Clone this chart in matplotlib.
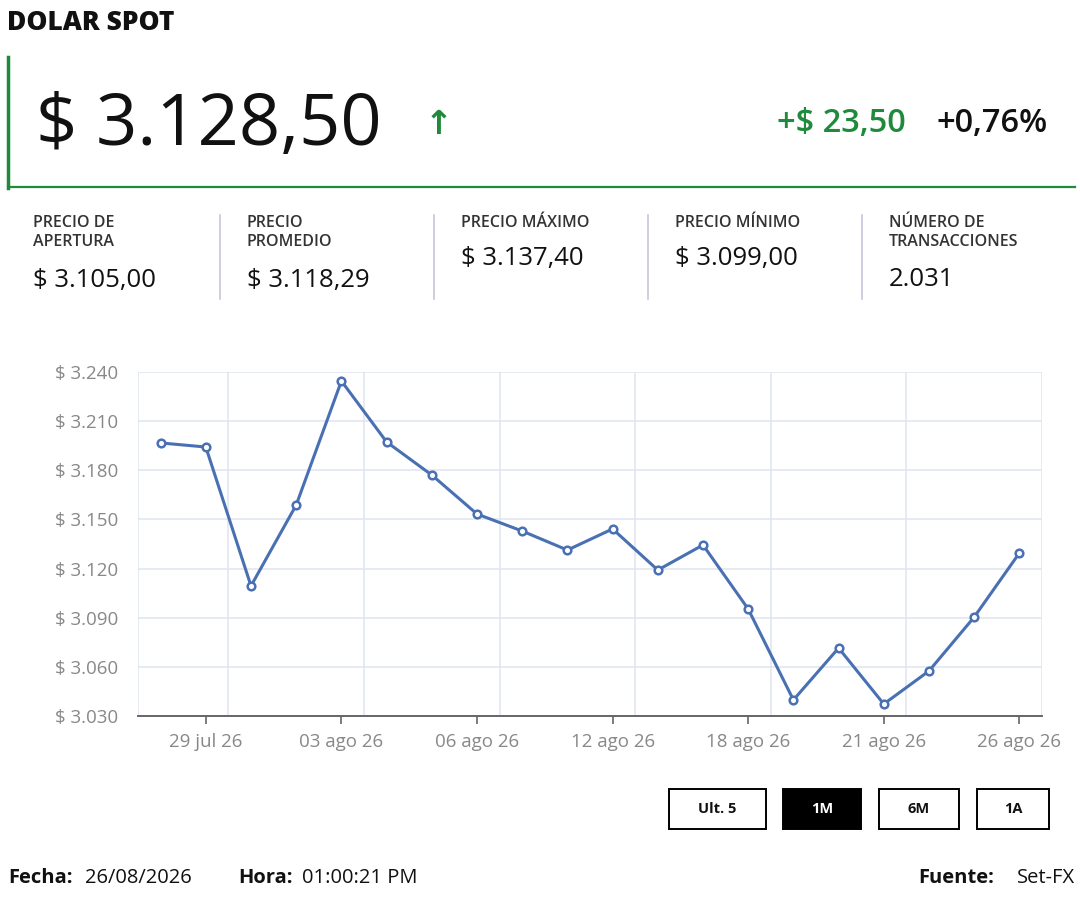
import matplotlib.pyplot as plt
from matplotlib.patches import Rectangle
from matplotlib.lines import Line2D

plt.rcParams['font.family'] = ['Open Sans', 'DejaVu Sans']

# data
dates = ['28 jul 26', '29 jul 26', '30 jul 26', '31 jul 26', '03 ago 26', '04 ago 26',
         '05 ago 26', '06 ago 26', '10 ago 26', '11 ago 26', '12 ago 26', '13 ago 26',
         '14 ago 26', '18 ago 26', '19 ago 26', '20 ago 26', '21 ago 26', '24 ago 26',
         '25 ago 26', '26 ago 26']
prices = [3196.7, 3194.2, 3109.4, 3158.8, 3234.5, 3197.3, 3177.1, 3153.3, 3142.9, 3131.3,
          3144.2, 3119.1, 3134.4, 3095.3, 3039.8, 3071.5, 3037.3, 3057.5, 3090.4, 3129.5]
y_ticks = [3030, 3060, 3090, 3120, 3150, 3180, 3210, 3240]
shown_dates = ['29 jul 26', '03 ago 26', '06 ago 26', '12 ago 26', '18 ago 26', '21 ago 26', '26 ago 26']

stat_labels = ['PRECIO DE\nAPERTURA', 'PRECIO\nPROMEDIO', 'PRECIO MÁXIMO', 'PRECIO MÍNIMO',
               'NÚMERO DE\nTRANSACCIONES']
stat_values = ['$ 3.105,00', '$ 3.118,29', '$ 3.137,40', '$ 3.099,00', '2.031']
buttons = ['Ult. 5', '1M', '6M', '1A']

W, H = 1080, 900
green = '#1f8a3c'
line_blue = '#4a70b4'


def px(x, y):
    return x / W, 1 - y / H


fig = plt.figure(figsize=(10.8, 9), dpi=100)
fig.patch.set_facecolor('white')

# header
fig.text(*px(7, 23), 'DOLAR SPOT', fontsize=19, fontweight='heavy', va='center', color='#111')
fig.add_artist(Line2D([8 / W, 8 / W], [1 - 57 / H, 1 - 188 / H], color=green, lw=2.5))
fig.add_artist(Line2D([8 / W, 1075 / W], [1 - 187 / H, 1 - 187 / H], color=green, lw=1.6))
fig.text(*px(36, 126), '$ 3.128,50', fontsize=52, va='center', color='#111')
fig.text(*px(439, 125), '↑', fontsize=24, fontweight='bold', va='center', ha='center',
         color=green, family=['DejaVu Sans'])
fig.text(*px(906, 124), '+$ 23,50', fontsize=23.5, fontweight='semibold', va='center',
         ha='right', color=green)
fig.text(*px(1048, 124), '+0,76%', fontsize=23.5, fontweight='semibold', va='center',
         ha='right', color='#111')

# stats row
col_x = [33, 247, 461, 675, 889]
for i, (lab, val) in enumerate(zip(stat_labels, stat_values)):
    fig.text(*px(col_x[i], 215), lab, fontsize=11.5, fontweight='semibold', va='top',
             color='#333', linespacing=1.25)
    vy = 280 if '\n' in lab else 259
    fig.text(*px(col_x[i], vy), val, fontsize=18.5, va='center', color='#111')
    if i > 0:
        xs = col_x[i] - 27
        fig.add_artist(Line2D([xs / W, xs / W], [1 - 215 / H, 1 - 299 / H],
                              color='#c5c7dc', lw=1.2))

# chart
ax = fig.add_axes([138 / W, 1 - 716 / H, (1042 - 138) / W, 344 / H])
x = list(range(len(prices)))
ax.plot(x, prices, color=line_blue, lw=2.2, marker='o', markersize=5.5,
        markerfacecolor='white', markeredgecolor=line_blue, markeredgewidth=1.8, zorder=3)
ax.set_xlim(-0.5, len(prices) - 0.5)
ax.set_ylim(y_ticks[0], y_ticks[-1])
ax.set_yticks(y_ticks)
ax.set_yticklabels(['$ {:,}'.format(v).replace(',', '.') for v in y_ticks])
tick_pos = [dates.index(d) for d in shown_dates]
ax.set_xticks(tick_pos)
ax.set_xticklabels(shown_dates)
ax.tick_params(axis='x', length=6, width=1.2, color='#666', labelsize=13.5,
               labelcolor='#888', pad=6)
ax.tick_params(axis='y', length=0, labelsize=13.5, labelcolor='#888', pad=14)
for yv in y_ticks:
    ax.axhline(yv, color='#dfe5f0', lw=1.1, zorder=0)
for gx in [p + 0.5 for p in tick_pos[:-1]] + [-0.5, len(prices) - 0.5]:
    ax.axvline(gx, color='#dfe5f0', lw=1.1, zorder=0)
for side in ['top', 'right', 'left']:
    ax.spines[side].set_visible(False)
ax.spines['bottom'].set_color('#666')
ax.spines['bottom'].set_linewidth(1.4)

# range buttons
btn_box = [(669, 766), (783, 861), (879, 959), (977, 1049)]
for name, (x0, x1) in zip(buttons, btn_box):
    active = name == '1M'
    fig.add_artist(Rectangle((x0 / W, 1 - 829 / H), (x1 - x0) / W, 40 / H,
                             facecolor='black' if active else 'white', edgecolor='black',
                             lw=1.4))
    fig.text(*px((x0 + x1) / 2, 809), name, fontsize=10.5, fontweight='bold', ha='center',
             va='center', color='white' if active else '#111')

# footer
fig.text(*px(8, 878), 'Fecha:', fontsize=14.5, fontweight='bold', va='center', color='#111')
fig.text(*px(85, 878), '26/08/2026', fontsize=14.5, va='center', color='#111')
fig.text(*px(238, 878), 'Hora:', fontsize=14.5, fontweight='bold', va='center', color='#111')
fig.text(*px(302, 878), '01:00:21 PM', fontsize=14.5, va='center', color='#111')
fig.text(*px(994, 878), 'Fuente:', fontsize=14.5, fontweight='bold', va='center', ha='right',
         color='#111')
fig.text(*px(1075, 878), 'Set-FX', fontsize=14.5, va='center', ha='right', color='#111')

fig.savefig('out.png', dpi=100)
